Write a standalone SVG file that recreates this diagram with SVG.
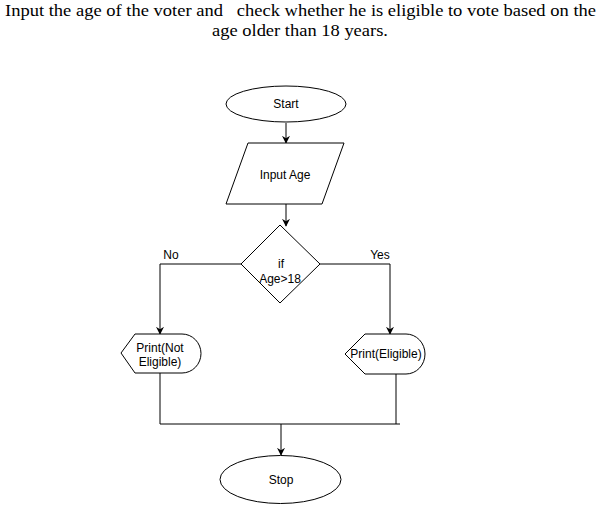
<svg xmlns="http://www.w3.org/2000/svg" width="601" height="505" viewBox="0 0 601 505">
<style>
.title{font-family:"Liberation Serif","DejaVu Serif",serif;font-size:17px;fill:#000;white-space:pre}
.lbl{font-family:"Liberation Sans",Arial,sans-serif;font-size:12px;fill:#000;text-anchor:middle}
.shape{fill:#fff;stroke:#000;stroke-width:1}
.conn{fill:none;stroke:#000;stroke-width:1}
</style>
<defs>
<marker id="arr" viewBox="0 0 10 10" refX="9" refY="5" markerWidth="8" markerHeight="8" markerUnits="userSpaceOnUse" orient="auto">
<path d="M0,0 L10,5 L0,10 L3,5 Z" fill="#000"/>
</marker>
</defs>
<rect width="601" height="505" fill="#fff"/>
<text class="title" xml:space="preserve" x="5" y="16" textLength="591" lengthAdjust="spacingAndGlyphs">Input the age of the voter and   check whether he is eligible to vote based on the</text>
<text class="title" x="212" y="36" textLength="176" lengthAdjust="spacingAndGlyphs">age older than 18 years.</text>
<g id="connectors">
<path class="conn" d="M286,123 V143" marker-end="url(#arr)"/>
<path class="conn" d="M286,204 V226" marker-end="url(#arr)"/>
<path class="conn" d="M241,264 H160 V334" marker-end="url(#arr)"/>
<path class="conn" d="M320,264 H390 V334" marker-end="url(#arr)"/>
<path class="conn" d="M160,373 V424 H400"/>
<path class="conn" d="M396,374 V424"/>
<path class="conn" d="M281,424 V455" marker-end="url(#arr)"/>
<text class="lbl" x="171" y="259">No</text>
<text class="lbl" x="380" y="259">Yes</text>
</g>
<g id="start">
<ellipse class="shape" cx="286" cy="104" rx="60" ry="18"/>
<text class="lbl" x="286" y="108">Start</text>
</g>
<g id="input">
<polygon class="shape" points="248,143 344,143 322,204 226,204"/>
<text class="lbl" x="285" y="179">Input Age</text>
</g>
<g id="decision">
<polygon class="shape" points="280,225 320,264 280,303 241,264"/>
<text class="lbl" x="281" y="268">if</text>
<text class="lbl" x="280" y="283">Age&gt;18</text>
</g>
<g id="not-eligible">
<path class="shape" d="M121,353 L135,334 H182 A19,19.5 0 0 1 182,373 H135 Z"/>
<text class="lbl" x="160" y="352">Print(Not</text>
<text class="lbl" x="160" y="366">Eligible)</text>
</g>
<g id="eligible">
<path class="shape" d="M345,354 L365,334 H406 A19,20 0 0 1 406,374 H365 Z"/>
<text class="lbl" x="386" y="358">Print(Eligible)</text>
</g>
<g id="stop">
<ellipse class="shape" cx="280.5" cy="479.5" rx="60.5" ry="24"/>
<text class="lbl" x="281" y="484">Stop</text>
</g>
</svg>
